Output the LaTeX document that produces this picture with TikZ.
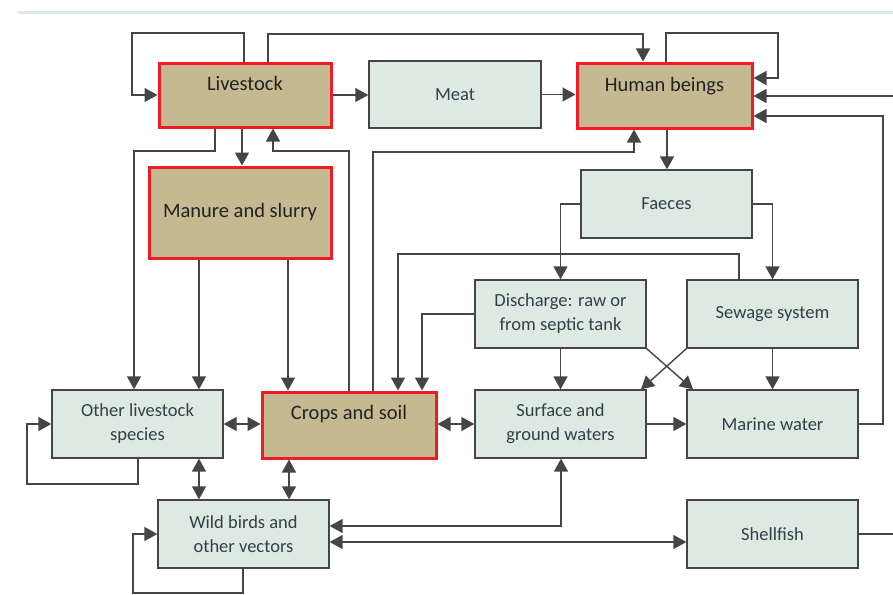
\documentclass[tikz,border=0pt]{standalone}
\usepackage{fontspec}
\setmainfont{Carlito}
\usetikzlibrary{arrows.meta,calc}
\definecolor{tanfill}{HTML}{C4B991}
\definecolor{lightfill}{HTML}{DDE9E3}
\definecolor{boxred}{HTML}{EE1C25}
\definecolor{edge}{HTML}{454545}
\definecolor{lighttext}{HTML}{333F47}
\definecolor{tantext}{HTML}{222222}
\definecolor{rule}{HTML}{DCEAE5}
\begin{document}
\begin{tikzpicture}[x=1pt,y=-1pt,
  base/.style={rectangle,inner sep=0pt,align=center},
  lbox/.style={base,draw=edge,line width=1.3pt,fill=lightfill,text=lighttext,
    font=\fontsize{18.5}{24}\selectfont},
  rbox/.style={base,draw=boxred,line width=3pt,fill=tanfill,text=tantext,
    font=\fontsize{20.5}{24}\selectfont},
  raised/.style={text height=14pt,text depth=#1},
  conn/.style={draw=edge,line width=1.4pt},
  arr/.style={conn,-{Triangle[length=13pt,width=14pt]}},
  darr/.style={conn,{Triangle[length=13pt,width=14pt]}-{Triangle[length=13pt,width=14pt]}},
  topline/.style={draw=rule,line width=3pt}
]
\useasboundingbox (0,0) rectangle (893,594);
\draw[topline] (18,13) -- (893,13);

% boxes
\node[rbox,minimum width=172pt,minimum height=64pt,raised=24pt] (livestock) at (245,95) {Livestock};
\node[lbox,minimum width=172pt,minimum height=67pt] (meat) at (455,94.5) {Meat};
\node[rbox,minimum width=175pt,minimum height=65pt,raised=23pt] (human) at (664.5,95.5) {Human beings};
\node[rbox,minimum width=182pt,minimum height=91pt] (manure) at (240,212.5) {Manure and slurry};
\node[lbox,minimum width=171pt,minimum height=68pt] (faeces) at (666.5,204) {Faeces};
\node[lbox,minimum width=171pt,minimum height=68pt] (discharge) at (560.5,314) {Discharge: raw or\\from septic tank};
\node[lbox,minimum width=171pt,minimum height=68pt] (sewage) at (772.5,314) {Sewage system};
\node[lbox,minimum width=171pt,minimum height=68pt] (other) at (137.5,424) {Other livestock\\species};
\node[rbox,minimum width=174pt,minimum height=66pt,raised=26pt] (crops) at (349,425) {Crops and soil};
\node[lbox,minimum width=171pt,minimum height=68pt] (surface) at (560.5,424) {Surface and\\ground waters};
\node[lbox,minimum width=171pt,minimum height=68pt] (marine) at (772.5,424) {Marine water};
\node[lbox,minimum width=171pt,minimum height=68pt] (wild) at (243.5,534) {Wild birds and\\other vectors};
\node[lbox,minimum width=171pt,minimum height=68pt] (shellfish) at (772.5,534) {Shellfish};

\coordinate (rightin) at (893,96);
\coordinate (rightout) at (893,534);

% connectors
\draw[arr] (244,0 |- livestock.north) -- (244,33) -- (132,33) |- (livestock.west);
\draw[arr] (268,0 |- livestock.north) -- (268,34) -| (643,0 |- human.north);
\draw[arr] (livestock.east) -- (livestock.east -| meat.west);
\draw[arr] (meat.east) -- (meat.east -| human.west);
\draw[arr] (666,0 |- human.north) -- (666,33) -- (778,33) -- (778,78) -- (human.east |- 0,78);
\draw[arr] (rightin) -- (human.east |- rightin);
\draw[arr] (marine.east) -- (883,0 |- marine.east) -- (883,116) -- (human.east |- 0,116);
\draw[arr] (667,0 |- human.south) -- (667,0 |- faeces.north);
\draw[arr] (373,0 |- crops.north) -- (373,152) -- (634,152) -- (634,0 |- human.south);
\draw[arr] (242,0 |- livestock.south) -- (242,0 |- manure.north);
\draw[arr] (215,0 |- livestock.south) -- (215,151) -| (134,0 |- other.north);
\draw[arr] (349,0 |- crops.north) -- (349,151) -- (273,151) -- (273,0 |- livestock.south);
\draw[arr] (199,0 |- manure.south) -- (199,0 |- other.north);
\draw[arr] (288,0 |- manure.south) -- (288,0 |- crops.north);
\draw[arr] (faeces.west) -| (discharge.north);
\draw[arr] (faeces.east) -| (sewage.north);
\draw[arr] (739,0 |- sewage.north) -- (739,254) -- (398,254) -- (398,0 |- crops.north);
\draw[arr] (discharge.west) -| (422,0 |- crops.north);
\draw[arr] (discharge.south) -- (surface.north);
\draw[arr] (discharge.south east) -- (693,0 |- marine.north);
\draw[arr] (sewage.south west) -- (641,0 |- surface.north);
\draw[arr] (sewage.south) -- (marine.north);
\draw[arr] (surface.east) -- (surface.east -| marine.west);
\draw[darr] (crops.east |- surface.west) -- (surface.west);
\draw[darr] (other.east) -- (crops.west |- other.east);
\draw[arr] (138,0 |- other.south) -- (138,484) -- (27,484) |- (other.west);
\draw[darr] (199,0 |- other.south) -- (199,0 |- wild.north);
\draw[darr] (289,0 |- crops.south) -- (289,0 |- wild.north);
\draw[arr] (243,0 |- wild.south) -- (243,593) -- (133,593) |- (wild.west);
\draw[darr] (wild.east |- 0,526) -| (561,0 |- surface.south);
\draw[darr] (wild.east |- 0,542) -- (shellfish.west |- 0,542);
\draw[conn] (shellfish.east) -- (rightout);
\end{tikzpicture}
\end{document}
